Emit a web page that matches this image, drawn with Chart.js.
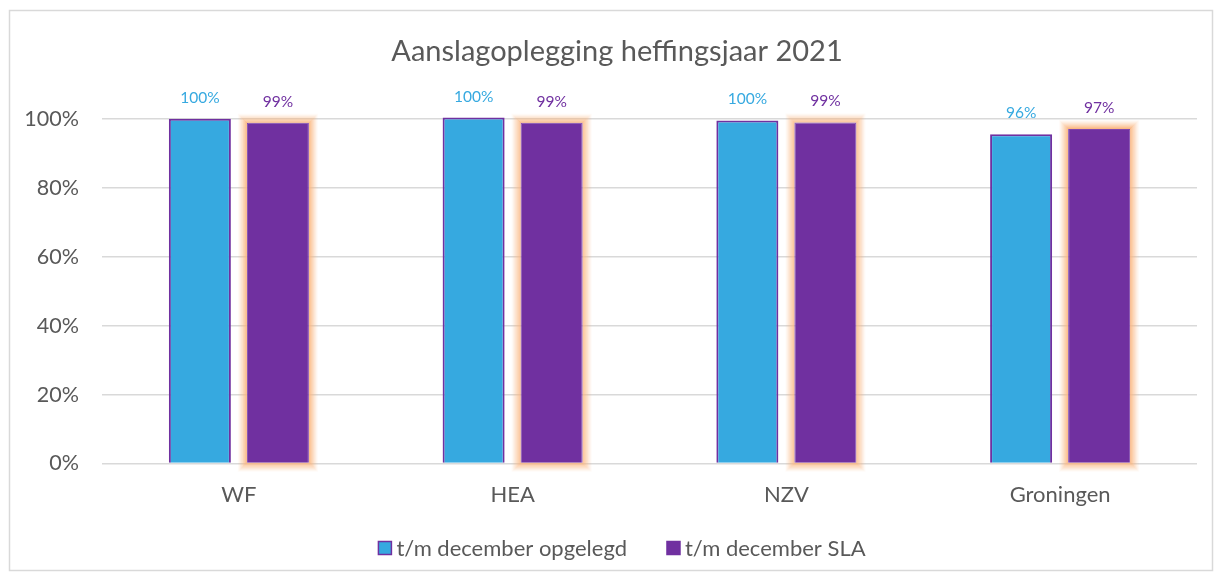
<!DOCTYPE html>
<html>
<head>
<meta charset="utf-8">
<script src="https://cdn.jsdelivr.net/npm/chart.js@4/dist/chart.umd.min.js"></script>
<style>
html,body{margin:0;padding:0;background:#fff;}
canvas{display:block;}
</style>
</head>
<body>
<canvas id="c" width="1223" height="581"></canvas>
<script>
const chartTitle = 'Aanslagoplegging heffingsjaar 2021';
const categories = ['WF', 'HEA', 'NZV', 'Groningen'];
const seriesNames = ['t/m december opgelegd', 't/m december SLA'];
const opgelegd = [100.1, 100.4, 99.6, 95.6];
const sla = [98.9, 98.9, 99.0, 97.1];
const yTickValues = [0, 20, 40, 60, 80, 100];

const FONT = 'Lato, "Open Sans", sans-serif';
const TEXT = '#595959';
const BLUE = '#36A9E0';
const PURPLE = '#7030A0';

const framePlugin = {
  id: 'frame',
  beforeDraw(chart) {
    const ctx = chart.ctx;
    ctx.save();
    ctx.fillStyle = '#fff';
    ctx.fillRect(0, 0, chart.width, chart.height);
    ctx.strokeStyle = '#D9D9D9';
    ctx.lineWidth = 1.5;
    ctx.strokeRect(9.5, 10.5, 1203, 560);
    ctx.restore();
  },
  afterDraw(chart) {
    const ctx = chart.ctx;
    ctx.save();
    ctx.fillStyle = TEXT;
    ctx.font = '29px ' + FONT;
    ctx.textAlign = 'center';
    ctx.textBaseline = 'middle';
    ctx.fillText(chartTitle, 617, 52);
    ctx.font = '22px ' + FONT;
    const box = 13, gapBox = 5, gapItem = 40;
    const widths = seriesNames.map(n => box + gapBox + ctx.measureText(n).width);
    const total = widths.reduce((a, b) => a + b, 0) + gapItem;
    let x = 622 - total / 2;
    const y = 548;
    const fills = [BLUE, PURPLE];
    seriesNames.forEach((n, i) => {
      ctx.fillStyle = fills[i];
      ctx.fillRect(x, y - box / 2, box, box);
      ctx.strokeStyle = PURPLE;
      ctx.lineWidth = 1.5;
      ctx.strokeRect(x, y - box / 2, box, box);
      ctx.fillStyle = TEXT;
      ctx.textAlign = 'left';
      ctx.fillText(n, x + box + gapBox, y + 1);
      x += widths[i] + gapItem;
    });
    ctx.restore();
  }
};

const glowPlugin = {
  id: 'glow',
  beforeDatasetDraw(chart, args) {
    if (args.index !== 1) return;
    const ctx = chart.ctx;
    ctx.save();
    const steps = 9;
    args.meta.data.forEach(el => {
      const p = el.getProps(['x', 'y', 'base', 'width'], true);
      const left = p.x - p.width / 2, right = p.x + p.width / 2;
      const top = Math.min(p.y, p.base), bottom = Math.max(p.y, p.base);
      for (let k = steps; k >= 1; k--) {
        const a = 0.95 * Math.pow(1 - (k - 1) / steps, 1.3);
        ctx.fillStyle = `rgba(250,180,125,${a.toFixed(3)})`;
        ctx.beginPath();
        ctx.rect(left - k, top - k, (right - left) + 2 * k, (bottom - top) + 2 * k);
        ctx.rect(left - k + 1, top - k + 1, (right - left) + 2 * k - 2, (bottom - top) + 2 * k - 2);
        ctx.fill('evenodd');
      }
    });
    ctx.restore();
  }
};

const labelPlugin = {
  id: 'valueLabels',
  afterDatasetsDraw(chart) {
    const ctx = chart.ctx;
    const colors = [BLUE, PURPLE];
    ctx.save();
    ctx.font = '15.5px ' + FONT;
    ctx.textAlign = 'center';
    ctx.textBaseline = 'middle';
    chart.data.datasets.forEach((ds, di) => {
      const meta = chart.getDatasetMeta(di);
      ctx.fillStyle = colors[di];
      meta.data.forEach((el, i) => {
        ctx.fillText(Math.round(ds.data[i]) + '%', el.x, el.y - 21);
      });
    });
    ctx.restore();
  }
};

new Chart(document.getElementById('c'), {
  type: 'bar',
  data: {
    labels: categories,
    datasets: [
      { label: seriesNames[0], data: opgelegd, backgroundColor: BLUE, borderColor: PURPLE, borderWidth: 2, clip: false },
      { label: seriesNames[1], data: sla, backgroundColor: PURPLE, borderColor: '#7E45AC', borderWidth: 1, clip: false }
    ]
  },
  options: {
    responsive: false,
    animation: false,
    devicePixelRatio: 1,
    categoryPercentage: 0.57,
    barPercentage: 0.795,
    layout: { padding: { left: 0, right: 26, top: 119, bottom: 0 } },
    plugins: { legend: { display: false }, title: { display: false }, tooltip: { enabled: false } },
    scales: {
      x: {
        grid: { display: false, drawTicks: false },
        border: { display: false },
        ticks: { color: TEXT, font: { family: FONT, size: 22 }, padding: 18 },
        afterFit(s) { s.height = 581 - 463.5; }
      },
      y: {
        min: 0, max: 100,
        afterBuildTicks(s) { s.ticks = yTickValues.map(v => ({ value: v })); },
        grid: { color: '#D9D9D9', lineWidth: 1.5, drawTicks: false },
        border: { display: false },
        ticks: { color: TEXT, font: { family: FONT, size: 21.5 }, padding: 23, callback: v => v + '%' },
        afterFit(s) { s.width = 102; }
      }
    }
  },
  plugins: [framePlugin, glowPlugin, labelPlugin]
});
</script>
</body>
</html>
